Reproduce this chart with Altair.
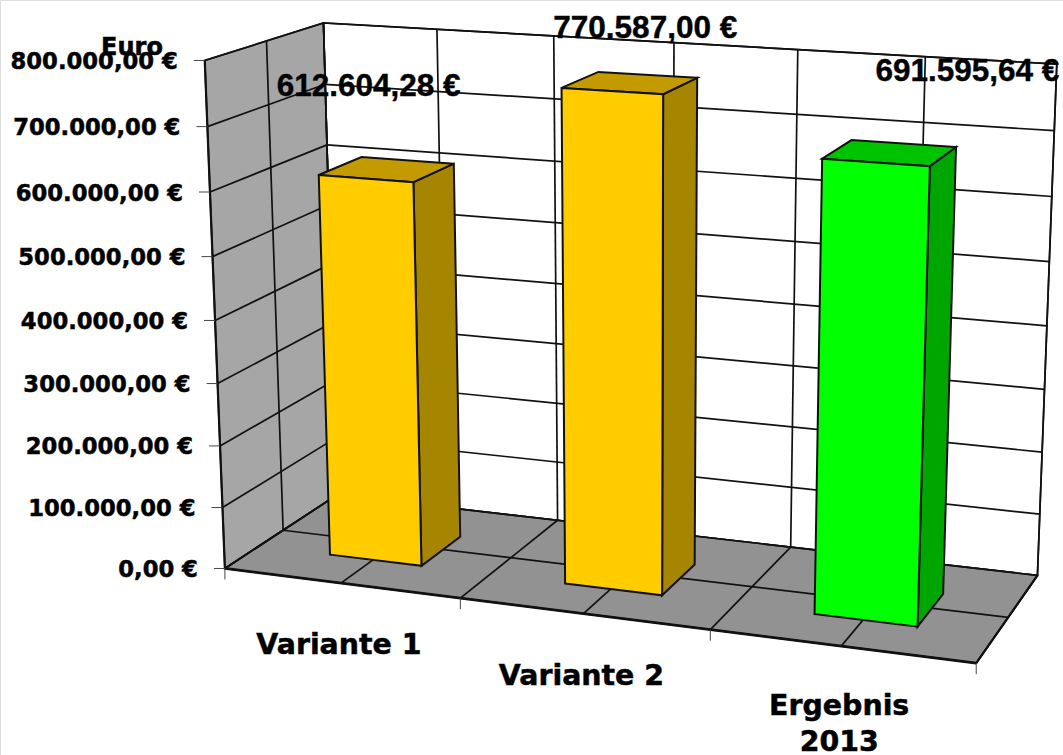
import altair as alt
import numpy as np
import pandas as pd

# Chart content
categories = ["Variante 1", "Variante 2", "Ergebnis 2013"]
values = [612604.28, 770587.00, 691595.64]
tick_values = [0, 100000, 200000, 300000, 400000, 500000, 600000, 700000, 800000]
axis_title = "Euro"
y_max = 800000

# Face colours per bar: front, side, top
front_colors = ["#FFCC00", "#FFCC00", "#00FF00"]
side_colors = ["#A68500", "#A68500", "#00A600"]
top_colors = ["#C39B00", "#C39B00", "#00C300"]
left_wall_color = "#A6A6A6"
floor_color = "#929292"
back_wall_color = "#FFFFFF"

WIDTH, HEIGHT = 1063, 755
BAR_LEFT, BAR_RIGHT = 0.0625, 0.0695
DEPTH_NEAR, DEPTH_FAR = 0.29, 0.67

# Camera calibration: box coordinates (across, depth, height) -> page position
calibration = [
    (0, 0, 0, 224, 569), (1/6, 0, 0, 342, 583), (1/3, 0, 0, 458, 598),
    (1/2, 0, 0, 583, 613), (2/3, 0, 0, 709, 630), (5/6, 0, 0, 843, 644),
    (1, 0, 0, 977, 665), (0, .5, 0, 282, 531), (1, .5, 0, 1007, 617),
    (0, 1, 0, 340, 495), (1/3, 1, 0, 557, 520), (2/3, 1, 0, 791, 547),
    (1, 1, 0, 1038, 575), (0, 0, 1, 205, 60), (0, .5, 1, 267, 40),
    (0, 1, 1, 323, 22), (1/3, 1, 1, 553, 37), (2/3, 1, 1, 799, 50),
    (1, 1, 1, 1056, 63), (0, 0, .75, 212, 193), (0, 1, .75, 325, 145),
    (1, 1, .75, 1052, 198),
]


def fit_camera(points):
    rows, rhs = [], []
    for u, d, v, px, py in points:
        rows.append([u, d, v, 1, 0, 0, 0, 0, -px * u, -px * d, -px * v])
        rhs.append(px)
        rows.append([0, 0, 0, 0, u, d, v, 1, -py * u, -py * d, -py * v])
        rhs.append(py)
    sol = np.linalg.lstsq(np.array(rows, float), np.array(rhs, float), rcond=None)[0]
    return np.append(sol, 1.0).reshape(3, 4)


CAMERA = fit_camera(calibration)


def project(u, d, v):
    x, y, w = CAMERA @ np.array([u, d, v, 1.0])
    return x / w, y / w


polygons, lines = [], []
poly_count = 0


def polygon(fill, corners):
    global poly_count
    for n, (u, d, v) in enumerate(corners):
        px, py = project(u, d, v)
        polygons.append(dict(pid=f"{poly_count:03d}", n=n, px=px, py=py, fill=fill))
    poly_count += 1


def segment(a, b, weight=1.7):
    lid = len(lines)
    for n, p in enumerate((a, b)):
        px, py = project(*p)
        lines.append(dict(lid=lid, n=n, px=px, py=py, weight=weight))


# Walls and floor
polygon(back_wall_color, [(0, 1, 0), (1, 1, 0), (1, 1, 1), (0, 1, 1)])
polygon(left_wall_color, [(0, 0, 0), (0, 1, 0), (0, 1, 1), (0, 0, 1)])
polygon(floor_color, [(0, 0, 0), (1, 0, 0), (1, 1, 0), (0, 1, 0)])

# Grid on the walls and floor
for t in tick_values:
    v = t / y_max
    segment((0, 0, v), (0, 1, v))
    segment((0, 1, v), (1, 1, v))
for k in range(7):
    u = k / 6
    segment((u, 1, 0), (u, 1, 1))
    segment((u, 0, 0), (u, 1, 0))
segment((0, .5, 0), (0, .5, 1))
segment((0, .5, 0), (1, .5, 0))
segment((0, 0, 0), (0, 0, 1), 2.2)
segment((0, 0, 0), (1, 0, 0), 2.8)
segment((1, 0, 0), (1, 1, 0), 2.2)
segment((0, 1, 0), (0, 1, 1))

grid_df = pd.DataFrame(lines)

# Bars, painted left to right
for i, val in enumerate(values):
    c = (i + 0.5) / 3
    u0, u1 = c - BAR_LEFT, c + BAR_RIGHT
    d0, d1 = DEPTH_NEAR, DEPTH_FAR
    v = val / y_max
    polygon(side_colors[i], [(u1, d0, 0), (u1, d1, 0), (u1, d1, v), (u1, d0, v)])
    polygon(top_colors[i], [(u0, d0, v), (u1, d0, v), (u1, d1, v), (u0, d1, v)])
    polygon(front_colors[i], [(u0, d0, 0), (u1, d0, 0), (u1, d0, v), (u0, d0, v)])

poly_df = pd.DataFrame(polygons)

# Tick marks on the two axes
ticks = []
for t in tick_values:
    px, py = project(0, 0, t / y_max)
    ticks.append(dict(x=px - 11, x2=px, y=py, y2=py))
for k in range(4):
    px, py = project(k / 3, 0, 0)
    ticks.append(dict(x=px, x2=px, y=py, y2=py + 11))
tick_df = pd.DataFrame(ticks)


def euro(val):
    s = f"{val:,.2f}".replace(",", "X").replace(".", ",").replace("X", ".")
    return s + " €"


y_labels = []
for t in tick_values:
    px, py = project(0, 0, t / y_max)
    y_labels.append(dict(x=px - 27, y=py + 1.5, text=euro(t)))
y_label_df = pd.DataFrame(y_labels)

cat_labels = []
for i, name in enumerate(categories):
    px, py = project((i + 0.5) / 3, 0, 0)
    two_lines = i == 2
    cat_labels.append(dict(x=px - 2, y=py + (60 if two_lines else 62), text=name.split(" ") if two_lines else [name]))
cat_label_df = pd.DataFrame(cat_labels)

# Value labels float above the bars, each with its own shift
label_shift = [(-18, -81), (16, -53), (79, -80)]
val_labels = []
for i, val in enumerate(values):
    px, py = project((i + 0.5) / 3, 0.5, val / y_max)
    dx, dy = label_shift[i]
    val_labels.append(dict(x=px + dx, y=py + dy, text=euro(val)))
val_label_df = pd.DataFrame(val_labels)

x_scale = alt.Scale(domain=[0, WIDTH], nice=False, zero=False)
y_scale = alt.Scale(domain=[HEIGHT, 0], nice=False, zero=False)
X = alt.X("px:Q", scale=x_scale, axis=None)
Y = alt.Y("py:Q", scale=y_scale, axis=None)
TX = alt.X("x:Q", scale=x_scale, axis=None)
TY = alt.Y("y:Q", scale=y_scale, axis=None)

back_surfaces = (
    alt.Chart(poly_df[poly_df.pid < "003"])
    .mark_line(filled=True, interpolate="linear-closed", stroke="#1a1a1a", strokeWidth=1.7)
    .encode(x=X, y=Y, order="n:Q", detail="pid:N", fill=alt.Fill("fill:N", scale=None))
)
grid = (
    alt.Chart(grid_df)
    .mark_line(stroke="#111111")
    .encode(
        x=X, y=Y, order="n:Q", detail="lid:N",
        strokeWidth=alt.StrokeWidth("weight:Q", scale=None),
    )
)
tick_marks = (
    alt.Chart(tick_df)
    .mark_rule(color="#444444", strokeWidth=1)
    .encode(x=TX, x2="x2:Q", y=TY, y2="y2:Q")
)
bars = (
    alt.Chart(poly_df[poly_df.pid >= "003"])
    .mark_line(filled=True, interpolate="linear-closed", stroke="#111111", strokeWidth=2)
    .encode(x=X, y=Y, order="n:Q", detail="pid:N", fill=alt.Fill("fill:N", scale=None))
)
y_text = (
    alt.Chart(y_label_df)
    .mark_text(font="DejaVu Sans", fontWeight="bold", fontSize=22.7, align="right", baseline="middle",
               color="black", stroke="black", strokeWidth=0.5)
    .encode(x=TX, y=TY, text="text:N")
)
cat_text = (
    alt.Chart(cat_label_df)
    .mark_text(font="DejaVu Sans", fontWeight="bold", fontSize=28.4, align="center", baseline="middle",
               lineHeight=36, color="black", stroke="black", strokeWidth=0.5)
    .encode(x=TX, y=TY, text="text:N")
)
val_text = (
    alt.Chart(val_label_df)
    .mark_text(font="Liberation Sans", fontWeight="bold", fontSize=31.5, align="center", baseline="middle",
               color="black", stroke="black", strokeWidth=0.4)
    .encode(x=TX, y=TY, text="text:N")
)
title_text = (
    alt.Chart(pd.DataFrame({"text": [axis_title]}))
    .mark_text(font="DejaVu Sans", fontWeight="bold", fontSize=24, align="center", baseline="middle",
               color="black", stroke="black", strokeWidth=0.5)
    .encode(x=alt.value(132), y=alt.value(48), text="text:N")
)

chart = (
    alt.layer(back_surfaces, grid, tick_marks, bars, title_text, y_text, cat_text, val_text)
    .properties(width=WIDTH, height=HEIGHT, padding=0, autosize=alt.AutoSizeParams(type="none"))
    .configure_view(stroke=None)
    .configure(background="white")
)

chart.save("out.html", embed_options={"renderer": "svg", "actions": False})
